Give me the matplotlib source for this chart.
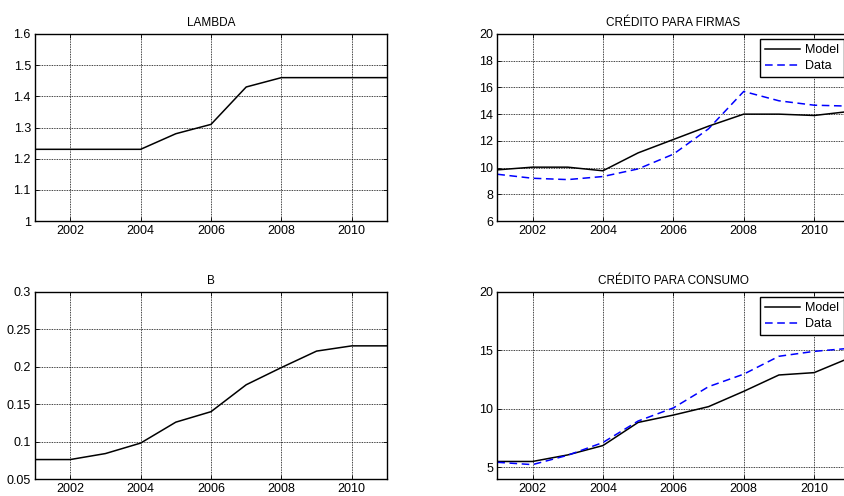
import matplotlib
matplotlib.use("Agg")
import matplotlib.pyplot as plt

years = [2001, 2002, 2003, 2004, 2005, 2006, 2007, 2008, 2009, 2010, 2011]

lambda_vals = [1.23, 1.23, 1.23, 1.23, 1.28, 1.31, 1.43, 1.46, 1.46, 1.46, 1.46]
b_vals = [0.076, 0.076, 0.084, 0.098, 0.126, 0.140, 0.176, 0.199, 0.221, 0.228, 0.228]

firmas_model = [9.83, 10.03, 10.03, 9.76, 11.1, 12.1, 13.1, 14.0, 14.0, 13.9, 14.2]
firmas_data = [9.5, 9.2, 9.1, 9.33, 9.9, 11.0, 12.9, 15.7, 15.0, 14.67, 14.6]

consumo_model = [5.5, 5.5, 6.06, 6.86, 8.84, 9.47, 10.19, 11.5, 12.9, 13.1, 14.35]
consumo_data = [5.43, 5.23, 6.03, 7.12, 8.96, 10.08, 11.9, 12.97, 14.5, 14.92, 15.18]

xticks = [2002, 2004, 2006, 2008, 2010]

plt.rcParams["font.family"] = ["Liberation Sans", "DejaVu Sans"]
plt.rcParams["font.size"] = 9

fig = plt.figure(figsize=(8.45, 4.96), dpi=100)

W = 352 / 845
H = 187 / 496
ax_lambda = fig.add_axes([35 / 845, 1 - 221 / 496, W, H])
ax_firmas = fig.add_axes([497.3 / 845, 1 - 221 / 496, W, H])
ax_b = fig.add_axes([35 / 845, 1 - 479 / 496, W, H])
ax_consumo = fig.add_axes([497.3 / 845, 1 - 479 / 496, W, H])


def style(ax, title, ylim, yticks, yfmt=None):
    ax.set_xlim(2001, 2011)
    ax.set_ylim(*ylim)
    ax.set_xticks(xticks)
    ax.set_yticks(yticks)
    if yfmt is not None:
        ax.set_yticklabels(yfmt)
    ax.set_title(title, fontsize=8.5, pad=6)
    ax.grid(True, color="black", linestyle=(0, (1, 1)), linewidth=0.6)
    ax.tick_params(direction="in", length=3, width=0.6, top=True, right=True,
                   labelsize=9, pad=3)
    for s in ax.spines.values():
        s.set_linewidth(1.0)


ax_lambda.plot(years, lambda_vals, color="black", linewidth=1.1)
style(ax_lambda, "LAMBDA", (1.0, 1.6), [1.0, 1.1, 1.2, 1.3, 1.4, 1.5, 1.6],
      ["1", "1.1", "1.2", "1.3", "1.4", "1.5", "1.6"])

ax_b.plot(years, b_vals, color="black", linewidth=1.1)
style(ax_b, "B", (0.05, 0.3), [0.05, 0.1, 0.15, 0.2, 0.25, 0.3],
      ["0.05", "0.1", "0.15", "0.2", "0.25", "0.3"])

ax_firmas.plot(years, firmas_model, color="black", linewidth=1.1, label="Model")
ax_firmas.plot(years, firmas_data, color="blue", linewidth=1.1,
               linestyle=(0, (5, 3)), label="Data")
style(ax_firmas, "CRÉDITO PARA FIRMAS", (6, 20), [6, 8, 10, 12, 14, 16, 18, 20])

ax_consumo.plot(years, consumo_model, color="black", linewidth=1.1, label="Model")
ax_consumo.plot(years, consumo_data, color="blue", linewidth=1.1,
                linestyle=(0, (5, 3)), label="Data")
style(ax_consumo, "CRÉDITO PARA CONSUMO", (4, 20), [5, 10, 15, 20])

for ax in (ax_firmas, ax_consumo):
    leg = ax.legend(loc="upper right", fontsize=9, fancybox=False,
                    framealpha=1, edgecolor="black", borderaxespad=0.4,
                    handlelength=2.8, borderpad=0.4, labelspacing=0.35,
                    handletextpad=0.4)
    leg.get_frame().set_linewidth(1.0)

fig.savefig("out.png", dpi=100)
